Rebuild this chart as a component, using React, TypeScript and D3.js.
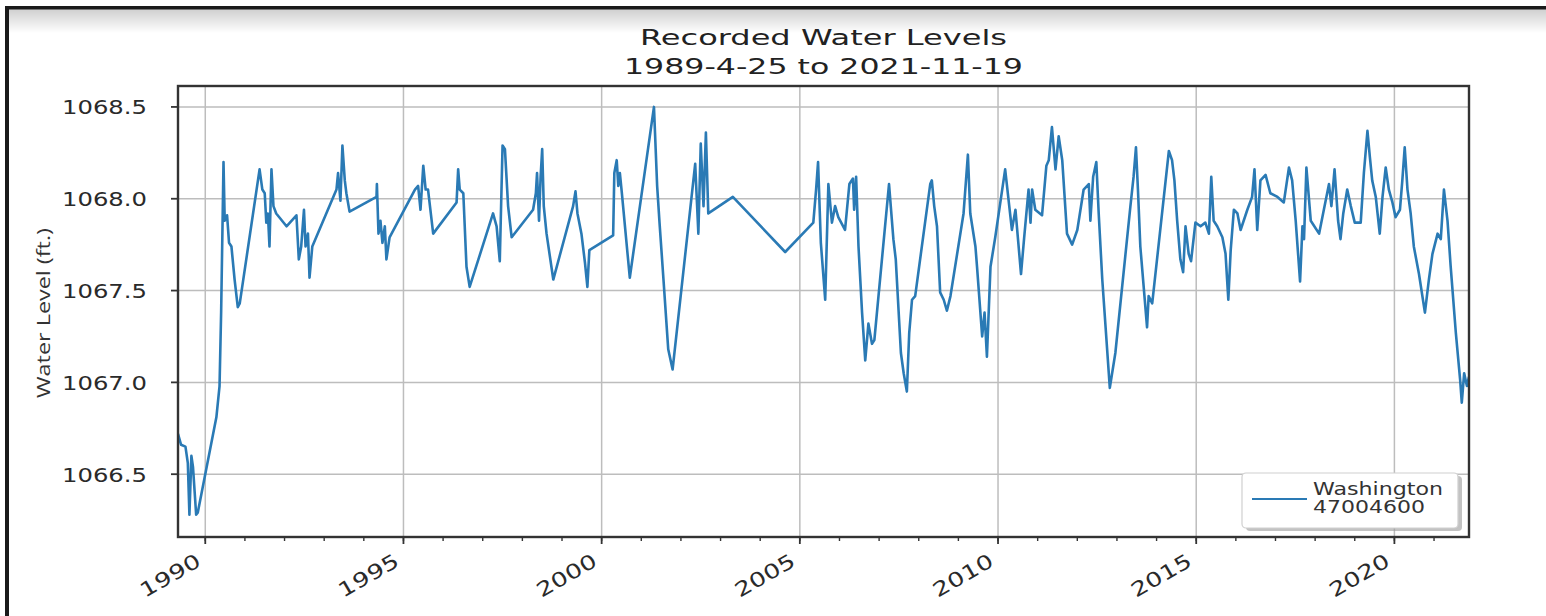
import * as d3 from "d3";

// decimal years (1989-4-25 .. 2021-11-19) and recorded levels
const years: number[] = [
  1989.312, 1989.39, 1989.5, 1989.56, 1989.6, 1989.65, 1989.69, 1989.77, 1989.81,
  1990.28, 1990.36, 1990.4, 1990.44, 1990.46, 1990.49, 1990.55, 1990.6, 1990.66, 1990.74, 1990.82, 1990.87,
  1991.37, 1991.44, 1991.5, 1991.54, 1991.58, 1991.62, 1991.67, 1991.72, 1991.79,
  1992.05, 1992.3, 1992.36, 1992.42, 1992.49, 1992.53, 1992.59, 1992.63, 1992.7,
  1993.31, 1993.35, 1993.41, 1993.46, 1993.52, 1993.56, 1993.64,
  1994.32, 1994.33, 1994.37, 1994.42, 1994.47, 1994.53, 1994.57, 1994.65,
  1995.29, 1995.37, 1995.43, 1995.5, 1995.56, 1995.62, 1995.75,
  1996.34, 1996.38, 1996.42, 1996.51, 1996.59, 1996.67,
  1997.26, 1997.35, 1997.43, 1997.5, 1997.56, 1997.64, 1997.73,
  1998.27, 1998.34, 1998.37, 1998.42, 1998.46, 1998.5, 1998.54, 1998.61, 1998.78,
  1999.28, 1999.34, 1999.39, 1999.49, 1999.58, 1999.64, 1999.69,
  2000.29, 2000.32, 2000.38, 2000.42, 2000.46, 2000.51, 2000.71,
  2001.32, 2001.4, 2001.46, 2001.56, 2001.68, 2001.79,
  2002.36, 2002.44, 2002.5, 2002.57, 2002.63, 2002.69,
  2003.31, 2004.63,
  2005.34, 2005.41, 2005.46, 2005.53, 2005.64, 2005.72, 2005.81, 2005.89, 2005.97,
  2006.14, 2006.25, 2006.34, 2006.37, 2006.42, 2006.48, 2006.57, 2006.65, 2006.73, 2006.82, 2006.88,
  2007.25, 2007.36, 2007.42, 2007.55, 2007.62, 2007.7, 2007.76, 2007.83, 2007.91,
  2008.29, 2008.33, 2008.39, 2008.46, 2008.54, 2008.63, 2008.71, 2008.8,
  2009.13, 2009.24, 2009.3, 2009.43, 2009.47, 2009.6, 2009.66, 2009.72, 2009.81, 2009.93,
  2010.18, 2010.35, 2010.44, 2010.58, 2010.66, 2010.77, 2010.82, 2010.86, 2010.94,
  2011.11, 2011.22, 2011.28, 2011.36, 2011.45, 2011.53, 2011.62, 2011.74, 2011.87,
  2012.0, 2012.16, 2012.29, 2012.33, 2012.4, 2012.48, 2012.54, 2012.63, 2012.82, 2012.96,
  2013.34, 2013.42, 2013.48, 2013.53, 2013.59, 2013.76, 2013.8, 2013.89,
  2014.31, 2014.39, 2014.45, 2014.52, 2014.6, 2014.67, 2014.73, 2014.81, 2014.87, 2014.98,
  2015.11, 2015.23, 2015.32, 2015.38, 2015.44, 2015.53, 2015.66, 2015.74, 2015.81, 2015.87, 2015.95,
  2016.04, 2016.12, 2016.29, 2016.41, 2016.47, 2016.54, 2016.62, 2016.75, 2016.87,
  2017.05, 2017.21, 2017.34, 2017.42, 2017.51, 2017.62, 2017.68, 2017.72, 2017.78, 2017.89,
  2018.1, 2018.22, 2018.35, 2018.41, 2018.49, 2018.58, 2018.64, 2018.71, 2018.81, 2018.9,
  2019.0, 2019.15, 2019.23, 2019.32, 2019.38, 2019.44, 2019.53, 2019.63, 2019.7, 2019.78, 2019.86, 2019.95,
  2020.03, 2020.14, 2020.2, 2020.26, 2020.33, 2020.41, 2020.49, 2020.62, 2020.77, 2020.87, 2020.96,
  2021.09, 2021.17, 2021.25, 2021.34, 2021.42, 2021.55, 2021.66, 2021.7, 2021.76, 2021.83, 2021.882,
];

const levels: number[] = [
  1066.72, 1066.66, 1066.65, 1066.56, 1066.28, 1066.6, 1066.54, 1066.28, 1066.29,
  1066.81, 1066.98, 1067.38, 1067.92, 1068.2, 1067.88, 1067.91, 1067.76, 1067.74, 1067.56, 1067.41, 1067.43,
  1068.16, 1068.05, 1068.03, 1067.87, 1067.92, 1067.74, 1068.16, 1067.96, 1067.92,
  1067.85, 1067.91, 1067.67, 1067.74, 1067.94, 1067.74, 1067.81, 1067.57, 1067.74,
  1068.05, 1068.14, 1067.99, 1068.29, 1068.1, 1068.03, 1067.93,
  1068.01, 1068.08, 1067.81, 1067.88, 1067.76, 1067.85, 1067.67, 1067.79,
  1068.05, 1068.07, 1067.94, 1068.18, 1068.05, 1068.05, 1067.81,
  1067.98, 1068.16, 1068.05, 1068.03, 1067.63, 1067.52,
  1067.92, 1067.85, 1067.66, 1068.29, 1068.27, 1067.96, 1067.79,
  1067.94, 1068.03, 1068.14, 1067.88, 1068.12, 1068.27, 1067.96, 1067.81, 1067.56,
  1067.96, 1068.04, 1067.92, 1067.81, 1067.65, 1067.52, 1067.72,
  1067.8, 1068.14, 1068.21, 1068.07, 1068.14, 1068.03, 1067.57,
  1068.5, 1068.07, 1067.87, 1067.56, 1067.18, 1067.07,
  1068.19, 1067.81, 1068.3, 1067.96, 1068.36, 1067.92,
  1068.01, 1067.71,
  1067.87, 1068.05, 1068.2, 1067.76, 1067.45, 1068.08, 1067.87, 1067.96, 1067.9,
  1067.83, 1068.08, 1068.11, 1067.94, 1068.12, 1067.74, 1067.38, 1067.12, 1067.32, 1067.21, 1067.23,
  1068.08, 1067.78, 1067.67, 1067.16, 1067.05, 1066.95, 1067.27, 1067.45, 1067.47,
  1068.08, 1068.1, 1067.96, 1067.85, 1067.49, 1067.45, 1067.39, 1067.47,
  1067.92, 1068.24, 1067.92, 1067.74, 1067.63, 1067.25, 1067.38, 1067.14, 1067.63, 1067.79,
  1068.16, 1067.83, 1067.94, 1067.59, 1067.79, 1068.05, 1067.87, 1068.05, 1067.94,
  1067.91, 1068.18, 1068.21, 1068.39, 1068.16, 1068.34, 1068.21, 1067.81, 1067.75,
  1067.83, 1068.05, 1068.08, 1067.88, 1068.12, 1068.2, 1067.92, 1067.56, 1066.97, 1067.16,
  1067.96, 1068.12, 1068.28, 1068.05, 1067.74, 1067.3, 1067.47, 1067.43,
  1068.26, 1068.21, 1068.1, 1067.88, 1067.67, 1067.6, 1067.85, 1067.7, 1067.66, 1067.87,
  1067.85, 1067.87, 1067.81, 1068.12, 1067.88, 1067.85, 1067.79, 1067.7, 1067.45, 1067.72, 1067.94,
  1067.92, 1067.83, 1067.94, 1068.01, 1068.16, 1067.83, 1068.1, 1068.13, 1068.03,
  1068.01, 1067.98, 1068.17, 1068.1, 1067.88, 1067.55, 1067.85, 1067.78, 1068.17, 1067.88,
  1067.81, 1067.94, 1068.08, 1067.96, 1068.16, 1067.88, 1067.78, 1067.92, 1068.05, 1067.96,
  1067.87, 1067.87, 1068.14, 1068.37, 1068.23, 1068.1, 1068.01, 1067.81, 1068.01, 1068.17, 1068.05, 1067.98,
  1067.9, 1067.94, 1068.1, 1068.28, 1068.05, 1067.92, 1067.74, 1067.59, 1067.38, 1067.56, 1067.7,
  1067.81, 1067.78, 1068.05, 1067.88, 1067.63, 1067.27, 1067.01, 1066.89, 1067.05, 1066.98, 1067.03,
];

const yTicks = [1066.5, 1067.0, 1067.5, 1068.0, 1068.5];
const xTicks = [1990, 1995, 2000, 2005, 2010, 2015, 2020];
const xMinor = d3.range(1990, 2022);
const titleLines = ["Recorded Water Levels", "1989-4-25 to 2021-11-19"];
const legendLines = ["Washington", "47004600"];

const W = 1546;
const H = 616;
const plot = { left: 178, right: 1469, top: 86, bottom: 537 };
const font = "'DejaVu Sans', sans-serif";

export default function App() {
  const data = years.map((y, i) => ({ year: y, level: levels[i] }));

  const x = d3.scaleLinear().domain([years[0], years[years.length - 1]]).range([plot.left, plot.right]);
  const y = d3.scaleLinear().domain([1066.158, 1068.614]).range([plot.bottom, plot.top]);

  const line = d3.line<{ year: number; level: number }>()
    .x(d => x(d.year))
    .y(d => y(d.level));

  const midX = (plot.left + plot.right) / 2;

  return (
    <div style={{ position: "fixed", left: 0, top: 0 }}>
      <svg width={W} height={H} style={{ display: "block", background: "#fff" }}>
        <defs>
          <linearGradient id="topband" x1="0" y1="0" x2="0" y2="1">
            <stop offset="0" stopColor="#cfcfcf" />
            <stop offset="1" stopColor="#ffffff" />
          </linearGradient>
          <clipPath id="plotclip">
            <rect x={plot.left} y={plot.top} width={plot.right - plot.left} height={plot.bottom - plot.top} />
          </clipPath>
        </defs>

        {/* screenshot frame */}
        <rect x={5} y={9} width={W - 5} height={24} fill="url(#topband)" />
        <rect x={5} y={6} width={W - 5} height={3.5} fill="#1a1a1a" />
        <rect x={5} y={6} width={4} height={H - 6} fill="#1a1a1a" />

        {/* title */}
        {titleLines.map((t, i) => (
          <text key={t} x={midX} y={45 + i * 29} textAnchor="middle" fontFamily={font} fontSize={22}
            fill="#222" textLength={i === 0 ? 367 : 399} lengthAdjust="spacingAndGlyphs">{t}</text>
        ))}

        {/* grid */}
        {yTicks.map(t => (
          <line key={"gy" + t} x1={plot.left} x2={plot.right} y1={y(t)} y2={y(t)} stroke="#bdbdbd" strokeWidth={1.5} />
        ))}
        {xTicks.map(t => (
          <line key={"gx" + t} x1={x(t)} x2={x(t)} y1={plot.top} y2={plot.bottom} stroke="#bdbdbd" strokeWidth={1.5} />
        ))}

        {/* series */}
        <path d={line(data) ?? ""} fill="none" stroke="#2a7ab5" strokeWidth={2.6} strokeLinejoin="round"
          clipPath="url(#plotclip)" />

        {/* spines */}
        <rect x={plot.left} y={plot.top} width={plot.right - plot.left} height={plot.bottom - plot.top}
          fill="none" stroke="#333" strokeWidth={2.4} />

        {/* y axis */}
        {yTicks.map(t => (
          <g key={"yt" + t}>
            <line x1={plot.left - 7} x2={plot.left} y1={y(t)} y2={y(t)} stroke="#333" strokeWidth={1.8} />
            <text x={147} y={y(t) + 7.5} textAnchor="end" fontFamily={font} fontSize={20} fill="#2a2a2a"
              textLength={85} lengthAdjust="spacingAndGlyphs">{t.toFixed(1)}</text>
          </g>
        ))}
        <text transform={`translate(50,313) rotate(-90)`} textAnchor="middle" fontFamily="'Open Sans', sans-serif"
          fontSize={19} fill="#333" textLength={170} lengthAdjust="spacingAndGlyphs">Water Level (ft.)</text>

        {/* x axis */}
        {xMinor.map(t => (
          <line key={"xm" + t} x1={x(t)} x2={x(t)} y1={plot.bottom} y2={plot.bottom + 4} stroke="#333" strokeWidth={1.4} />
        ))}
        {xTicks.map(t => (
          <g key={"xt" + t}>
            <line x1={x(t)} x2={x(t)} y1={plot.bottom} y2={plot.bottom + 7} stroke="#333" strokeWidth={1.8} />
            <text transform={`translate(${x(t) - 3},${plot.bottom + 28}) rotate(-30)`} textAnchor="end"
              fontFamily={font} fontSize={20} fill="#2a2a2a" textLength={66} lengthAdjust="spacingAndGlyphs">{t}</text>
          </g>
        ))}

        {/* legend */}
        <g>
          <rect x={1246} y={476} width={216} height={55} rx={4} fill="#999" opacity={0.6} />
          <rect x={1242} y={473} width={216} height={55} rx={4} fill="#fff" stroke="#d0d0d0" strokeWidth={1.2} />
          <line x1={1252} x2={1307} y1={499} y2={499} stroke="#2a7ab5" strokeWidth={2.2} />
          {legendLines.map((t, i) => (
            <text key={t} x={1313} y={495 + i * 18} fontFamily={font} fontSize={17} fill="#333"
              textLength={i === 0 ? 130 : 112} lengthAdjust="spacingAndGlyphs">{t}</text>
          ))}
        </g>
      </svg>
    </div>
  );
}
